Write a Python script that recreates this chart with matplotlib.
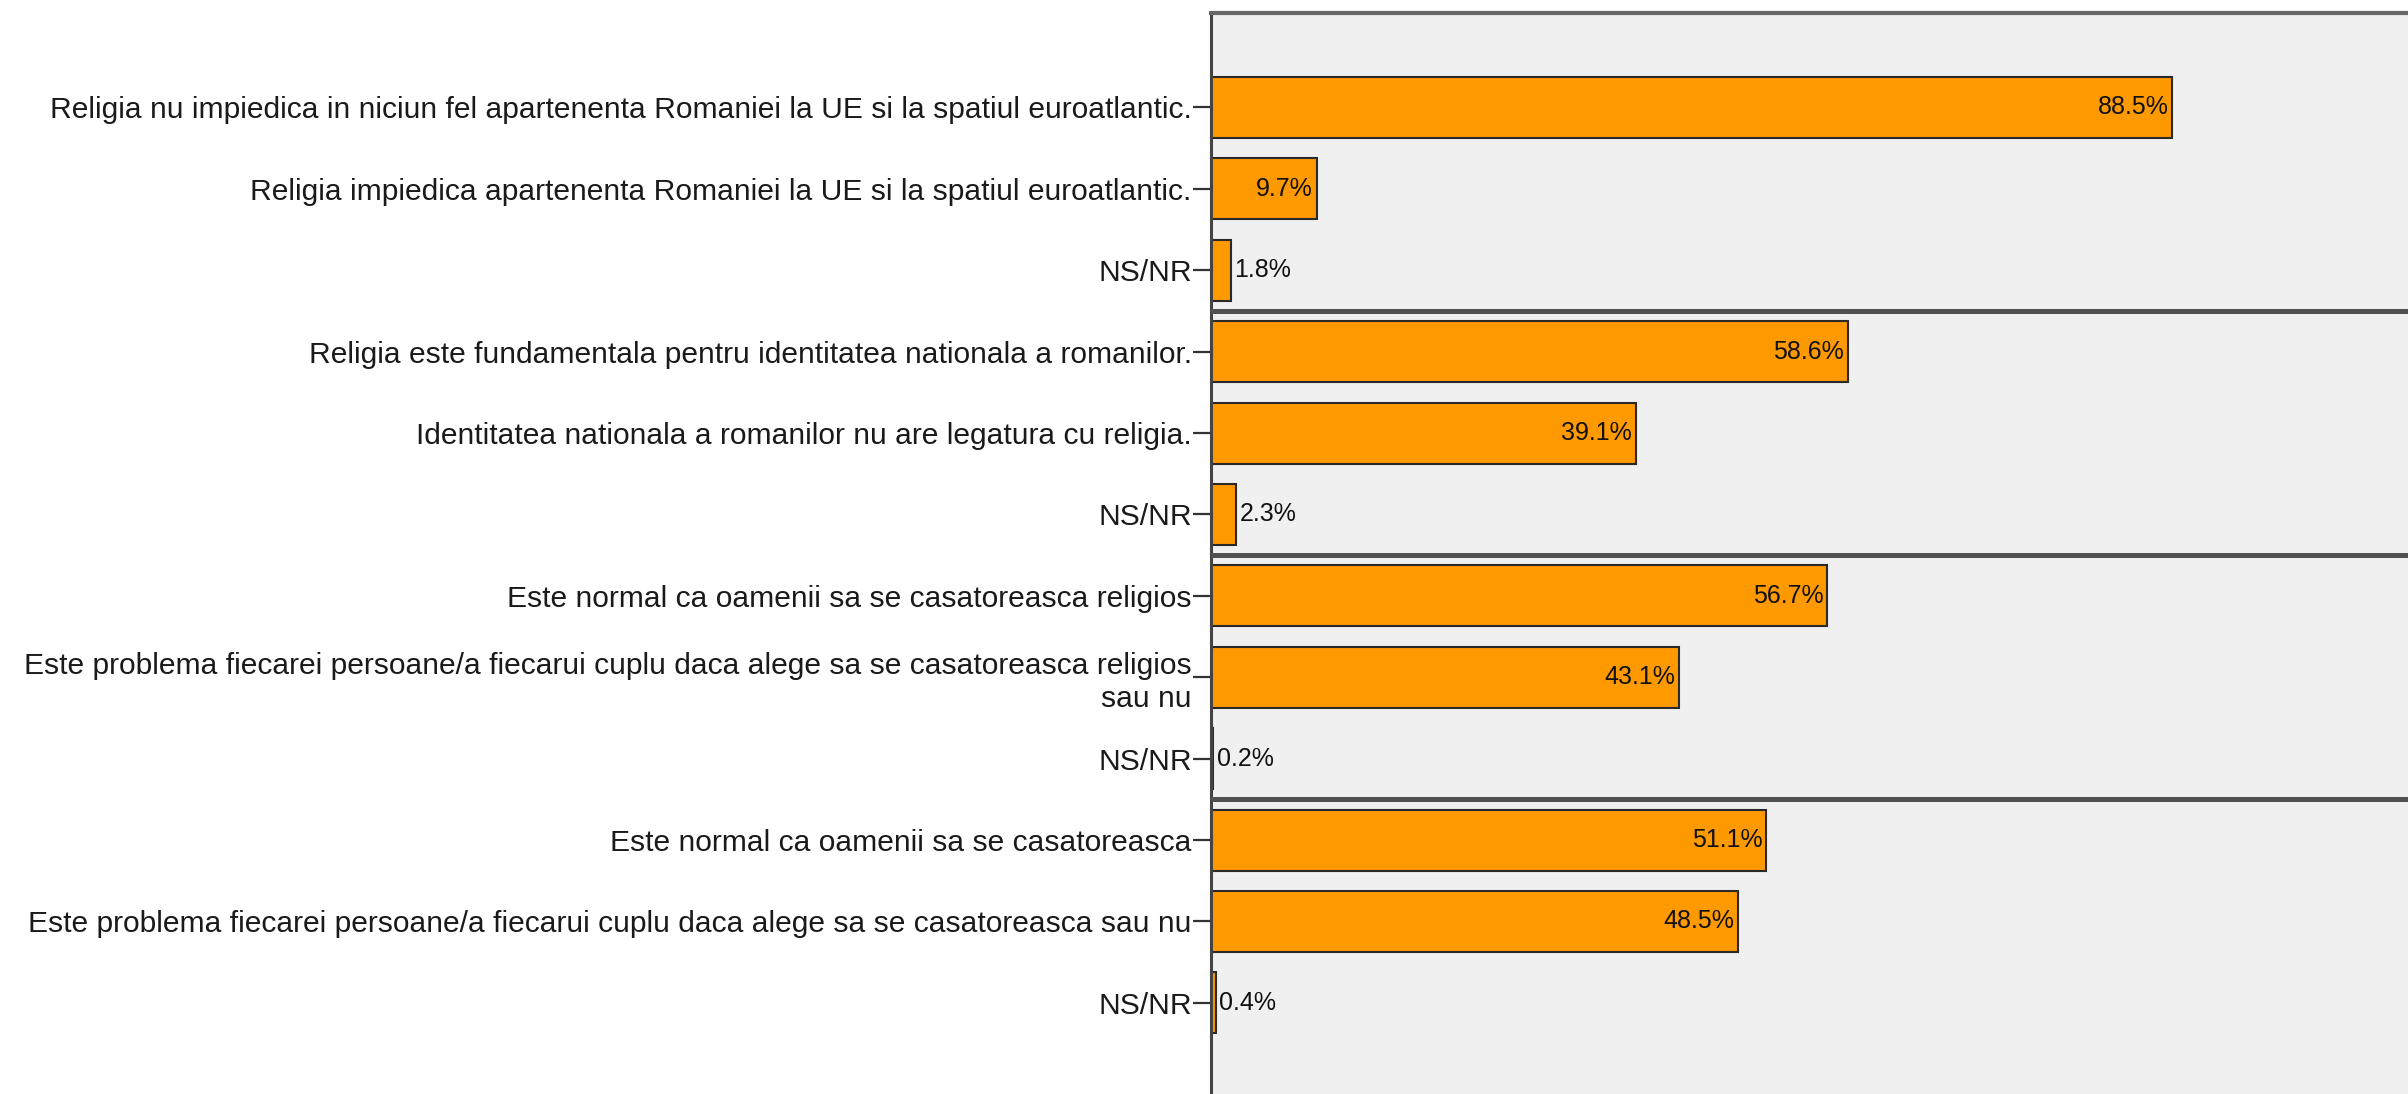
import matplotlib
matplotlib.use("Agg")
import matplotlib.pyplot as plt

categories = [
    "Religia nu impiedica in niciun fel apartenenta Romaniei la UE si la spatiul euroatlantic.",
    "Religia impiedica apartenenta Romaniei la UE si la spatiul euroatlantic.",
    "NS/NR",
    "Religia este fundamentala pentru identitatea nationala a romanilor.",
    "Identitatea nationala a romanilor nu are legatura cu religia.",
    "NS/NR",
    "Este normal ca oamenii sa se casatoreasca religios",
    "Este problema fiecarei persoane/a fiecarui cuplu daca alege sa se casatoreasca religios\nsau nu",
    "NS/NR",
    "Este normal ca oamenii sa se casatoreasca",
    "Este problema fiecarei persoane/a fiecarui cuplu daca alege sa se casatoreasca sau nu",
    "NS/NR",
]
values = [88.5, 9.7, 1.8, 58.6, 39.1, 2.3, 56.7, 43.1, 0.2, 51.1, 48.5, 0.4]
value_labels = ["88.5%", "9.7%", "1.8%", "58.6%", "39.1%", "2.3%",
                "56.7%", "43.1%", "0.2%", "51.1%", "48.5%", "0.4%"]
group_size = 3

plt.rcParams['font.family'] = ['Liberation Sans', 'DejaVu Sans']

fig = plt.figure(figsize=(24.08, 10.94), dpi=100)
ax = fig.add_axes([0.503, 0.0, 0.497, 1 - 13 / 1094])
ax.set_facecolor('#F0F0F0')

pos = list(range(len(values)))
bars = ax.barh(pos, values, height=0.75, color='#FF9900',
               edgecolor='#2A2A2A', linewidth=1.5)

ax.set_xlim(0, 110.2)
ax.set_ylim(len(values) - 1 + 1.12, -1.16)

ax.set_yticks(pos)
ax.set_yticklabels(categories, fontsize=21.6, color='#1A1A1A')
ax.tick_params(axis='y', length=13, width=1.6, color='#333333', pad=1)
ax.set_xticks([])

for spine in ['right', 'bottom']:
    ax.spines[spine].set_visible(False)
ax.spines['left'].set_color('#444444')
ax.spines['left'].set_linewidth(2.2)
ax.spines['top'].set_color('#666666')
ax.spines['top'].set_linewidth(3.0)

for i, (v, lab) in enumerate(zip(values, value_labels)):
    if v > 5:
        ax.text(v - 0.35, i, lab, ha='right', va='center', fontsize=18,
                color='#111111')
    else:
        ax.text(v + 0.35, i, lab, ha='left', va='center', fontsize=18,
                color='#111111')

for g in range(1, len(values) // group_size):
    ax.axhline(g * group_size - 0.5, color='#505050', linewidth=3.6, zorder=3)

fig.savefig('out.png', dpi=100, facecolor='white')
